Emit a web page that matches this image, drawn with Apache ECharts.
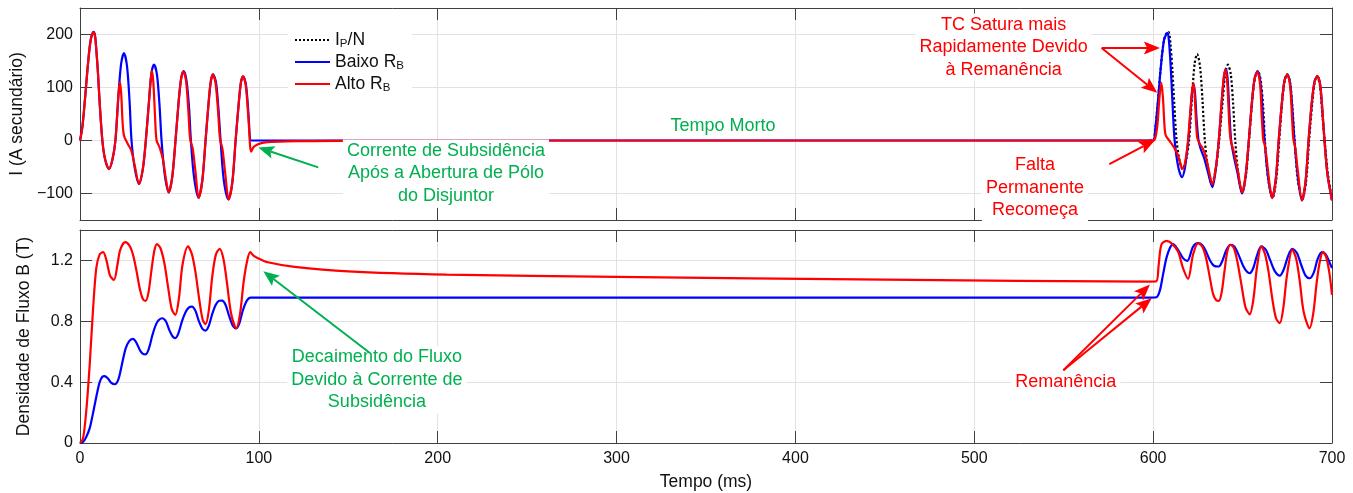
<!DOCTYPE html>
<html>
<head>
<meta charset="utf-8">
<script src="https://cdn.jsdelivr.net/npm/echarts@6/dist/echarts.min.js"></script>
<style>html,body{margin:0;padding:0;background:#fff}#c{width:1353px;height:493px}</style>
</head>
<body>
<div id="c"></div>
<script>
const FONT = "'Liberation Sans', Arial, Helvetica, sans-serif";

// ---- axis ticks ----
const xTicks = [0, 100, 200, 300, 400, 500, 600, 700];
const yTicksI = [-100, 0, 100, 200];
const yTicksB = [0, 0.4, 0.8, 1.2];

// ---- series names ----
const nameIdeal = 'IP/N';
const nameBaixo = 'Baixo RB';
const nameAlto = 'Alto RB';

// ---- secondary current I (A) : [time ms, value] ----
const iIdeal = [
[598,0],[600,0],[601.3,25],[602.6,71],[604.5,146],[606.1,190],[607.6,203],[608.6,205],[609.7,182],[610.8,130],[611.8,70],[613.1,0],
[614.6,-35],[616.4,-54],[618.5,-35],[620.1,0],[621.8,85],[623.2,145],[624.6,163],[626.2,140],[627.6,75],[628.9,0],
[630.6,-50],[632.8,-82],[635.1,-52],[636.9,0],[638.9,75],[640.4,128],[641.8,143],[643.4,125],[644.7,70],[645.9,0],
[647.7,-65],[649.8,-98],[651.8,-68],[653.6,0],[655.4,75],[656.9,118],[658.6,131],[660.2,112],[661.6,60],[662.5,0],
[664.2,-70],[666.8,-108],[668.8,-75],[670.5,0],[672.2,75],[673.5,112],[674.9,125],[676.5,110],[677.9,60],[679.1,0],
[680.9,-75],[683.4,-111],[685.5,-78],[687.2,0],[689,72],[690.3,110],[691.6,121],[693.2,105],[694.6,50],[695.9,0],
[697.6,-60],[700,-112]
];
const iBaixoRB = [
[0,0],[1.3,25],[2.6,71],[4.5,146],[6,190],[7.6,205],[8.4,198],[9.1,172],[10,130],[11,71],[12.5,0],
[14,-35],[16.2,-54],[18.2,-35],[19.8,0],[21.5,85],[23,145],[24.6,165],[26.3,140],[27.7,75],[28.8,0],
[30.5,-50],[33,-82],[35.2,-52],[36.8,0],[38.6,75],[40,128],[41.4,143],[43,125],[44.4,70],[45.6,0],
[47.4,-65],[49.6,-98],[51.6,-68],[53.4,0],[55.2,75],[56.6,118],[58,131],[59.6,112],[61,60],[62,0],
[63.8,-70],[66.3,-108],[68.4,-75],[70.2,0],[72,75],[73.2,112],[74.4,125],[76,110],[77.4,60],[78.6,0],
[80.4,-75],[83,-111],[85.2,-78],[87,0],[88.8,72],[90,110],[91.2,121],[92.8,105],[94.2,50],[95.3,0],
[96,0],[100,0],[200,0],[400,0],[596,0],[600,0],
[601.3,25],[602.6,71],[604.5,146],[606.1,190],[607.4,201],[608.1,203],[608.9,185],[609.8,140],[610.7,80],[611.5,25],
[612.3,-10],[613.5,-40],[614.8,-60],[616.2,-69],[617.6,-55],[618.8,-25],[619.8,5],[620.9,55],[621.9,95],[622.7,106],
[623.5,85],[624.3,40],[625.3,2],[626.5,-15],[628.5,-33],[630.5,-58],[633.1,-88],[635,-55],[636.7,0],[638.4,75],
[639.6,120],[640.6,135],[641.6,118],[642.6,55],[643.6,0],[645,-28],[647.2,-62],[649.7,-100],[651.6,-70],[653.5,0],
[655.3,75],[656.8,118],[658.4,131],[660,110],[661.4,45],[662.3,0],[664.2,-68],[666.5,-108],[668.5,-75],[670.2,0],
[672,72],[673.5,114],[675,124.5],[676.6,108],[678,50],[679,0],[681,-72],[683.2,-113],[685.2,-78],[686.9,0],
[688.7,72],[690.3,112],[691.8,121],[693.4,105],[694.8,48],[695.8,0],[697.5,-65],[700,-113]
];
const iAltoRB = [
[0,0],[1.3,25],[2.6,71],[4.5,146],[6,190],[7.6,204],[8.4,197],[9.1,172],[10,130],[11,71],[12.5,0],
[14,-35],[16.2,-54],[18.2,-35],[19.8,0],[20.8,50],[21.7,95],[22.4,110],[23.1,85],[23.8,35],[24.6,9],
[26.8,-7],[28.7,-19],[30.6,-47],[33,-82],[35.2,-52],[36.8,0],[38.6,75],[39.5,115],[40.2,132],[41,110],
[41.9,50],[42.8,0],[44.5,-13],[46.4,-36],[47.9,-70],[49.6,-98],[51.6,-68],[53.4,0],[55.2,75],[56.6,118],
[57.8,130],[59.3,112],[60.6,55],[61.6,2],[63,-15],[64.6,-60],[66.3,-108],[68.4,-75],[70.2,0],[72,75],
[73.1,112],[74.2,125],[75.8,108],[77.2,55],[78.3,2],[79.6,-15],[81.2,-62],[83.1,-111],[85.2,-78],[87,0],
[88.8,72],[90,110],[91.1,121],[92.7,103],[94.2,40],[95.7,-21],[97.2,-12],[99.5,-7],[102,-4.5],[105,-3],
[115,-1.8],[130,-1],[160,-0.4],[200,0],[300,0],[500,0],[596,0],[600,0],
[601.2,5],[602.4,30],[603.5,80],[604.6,109],[605.5,80],[606.3,30],[607,10],[609,0],[611.1,-10],[612.5,-18],
[614,-29],[615.8,-50],[616.7,-53],[618.2,-35],[619.5,0],[620.8,55],[621.8,95],[622.7,108],[623.6,60],[624.6,6],
[626,-6],[627.9,-16],[629.8,-35],[631.5,-62],[633.1,-83],[635,-52],[636.7,0],[638.4,78],[639.6,122],[640.6,134],
[641.6,100],[642.6,30],[643.4,0],[645.2,-22],[647.5,-60],[649.7,-98],[651.6,-68],[653.5,0],[655.3,75],[656.8,118],
[658.3,129.5],[659.8,105],[660.8,40],[661.6,0],[662.4,-8],[663.5,-35],[665,-80],[666.5,-108.6],[668.5,-75],[670.2,0],
[672,72],[673.5,114],[675,124.5],[676.6,102],[677.7,40],[678.4,2],[679.4,-12],[680.8,-55],[683.2,-113],[685.2,-78],
[686.9,0],[688.7,72],[690.3,112],[691.8,121],[693.4,105],[694.8,48],[695.8,0],[697.5,-65],[700,-113]
];

// ---- flux density B (T) : [time ms, value] ----
const bBaixoRB = [
[0,0],[2,0.01],[3.5,0.04],[5.4,0.096],[7,0.18],[8.2,0.25],[9.6,0.33],[11,0.4],[12.5,0.435],[13.8,0.44],
[15.5,0.425],[17.5,0.395],[19.4,0.386],[21.5,0.42],[23.5,0.52],[25.5,0.62],[27.5,0.67],[29.6,0.684],[31.5,0.66],[33.5,0.61],
[35,0.588],[36.7,0.583],[38.5,0.62],[40.5,0.71],[42.5,0.78],[44.2,0.81],[46,0.82],[48,0.8],[50,0.74],[51.8,0.7],
[53.3,0.689],[55,0.72],[57,0.8],[59,0.86],[60.8,0.89],[62.6,0.897],[64.5,0.87],[66.5,0.8],[68.5,0.75],[70.2,0.739],
[72,0.77],[74,0.85],[76,0.91],[77.8,0.935],[79.4,0.936],[81.3,0.91],[83.5,0.83],[85.5,0.77],[87.4,0.754],[89.2,0.79],
[91,0.87],[93,0.93],[94.5,0.952],[95.5,0.956],[97,0.956],[150,0.956],[300,0.956],[450,0.956],[598,0.956],
[601.8,0.958],[603.7,1.0],[605.5,1.105],[607.4,1.215],[609.3,1.28],[611.1,1.307],[613.9,1.27],[616.7,1.215],[619.1,1.197],[622.3,1.29],
[625.1,1.314],[627.5,1.3],[629.5,1.26],[631.8,1.2],[634,1.165],[636.7,1.16],[638.8,1.2],[641,1.27],[643.2,1.303],[645.5,1.29],
[648,1.23],[650.5,1.16],[652.5,1.125],[654,1.116],[656,1.15],[658,1.23],[660.5,1.292],[663,1.27],[665.5,1.2],[668,1.13],
[670.8,1.1],[673,1.14],[675.5,1.23],[677.8,1.276],[680.3,1.25],[682.8,1.17],[685.2,1.1],[687.5,1.083],[689.8,1.12],[692,1.21],
[694.4,1.254],[696.5,1.24],[698.5,1.19],[700,1.15]
];
const bAltoRB = [
[0,0],[1.7,0.03],[3.5,0.21],[5.4,0.51],[7.3,0.88],[9.1,1.15],[11,1.24],[12.9,1.254],[14.8,1.2],[16.8,1.1],
[19,1.072],[20.9,1.17],[22.5,1.27],[25.3,1.32],[28,1.29],[29.8,1.23],[31.6,1.13],[33.5,1.01],[35.2,0.945],[36.7,0.934],
[38.3,0.99],[40,1.14],[41.5,1.26],[43,1.307],[45,1.28],[47.2,1.18],[49.3,1.02],[51.3,0.88],[53.3,0.842],[55.3,0.95],
[57.3,1.17],[60.4,1.292],[62.6,1.24],[64.6,1.12],[66.6,0.95],[68.6,0.81],[70.2,0.781],[72,0.87],[74,1.1],[76,1.24],
[78.1,1.276],[80.2,1.21],[82.2,1.05],[84.5,0.85],[87.4,0.754],[89.5,0.85],[91.5,1.06],[93.5,1.2],[95.2,1.254],[97,1.232],
[99.5,1.215],[105,1.188],[120,1.158],[150,1.128],[205,1.107],[300,1.092],[450,1.074],[598,1.061],
[601.8,1.063],[603.1,1.171],[604.6,1.303],[607.4,1.329],[610.2,1.314],[613.9,1.259],[616.7,1.149],[619.5,1.079],[622.3,1.237],[625.1,1.314],
[627.5,1.29],[629.5,1.22],[631.5,1.1],[633.5,0.98],[635.2,0.94],[636.7,0.934],[638.3,0.99],[640,1.14],[641.5,1.26],[643.2,1.303],
[645.2,1.28],[647.3,1.18],[649.5,1.03],[651.7,0.89],[654,0.846],[656,0.94],[658,1.15],[660.5,1.292],[662.6,1.24],[664.6,1.12],
[666.6,0.95],[668.7,0.82],[670.8,0.787],[672.8,0.89],[674.8,1.1],[677.8,1.27],[680,1.21],[682,1.06],[684.2,0.86],[687.5,0.754],
[689.5,0.85],[691.5,1.06],[693.3,1.2],[695,1.254],[696.8,1.22],[698.5,1.12],[700,0.974]
];

// ---- chart ----
const chart = echarts.init(document.getElementById('c'), null, {renderer: 'canvas'});
const AX = '#404040', GRIDC = '#e2e2e2';
const GREEN = '#00B050', RED = '#FF0000', BLUE = '#0000FF';

function xAxis(grid, pos, labels, split, withName) {
  const a = {
    type: 'value', gridIndex: grid, position: pos, min: 0, max: 700, interval: 100,
    axisLine: {show: true, onZero: false, lineStyle: {color: AX, width: 1}},
    axisTick: {show: true, inside: true, length: 12, lineStyle: {color: AX}, customValues: xTicks},
    axisLabel: {show: labels, color: '#111', fontSize: 16, fontFamily: FONT, margin: 8, customValues: xTicks},
    splitLine: {show: split, lineStyle: {color: GRIDC, width: 1}}
  };
  if (withName) {
    a.name = 'Tempo (ms)'; a.nameLocation = 'middle'; a.nameGap = 30;
    a.nameTextStyle = {fontSize: 17.5, fontFamily: FONT, color: '#111'};
  }
  return a;
}
function yAxis(grid, pos, min, max, interval, ticks, labels, split, name, fmt) {
  const a = {
    type: 'value', gridIndex: grid, position: pos, min: min, max: max, interval: interval,
    axisLine: {show: true, onZero: false, lineStyle: {color: AX, width: 1}},
    axisTick: {show: true, inside: true, length: 12, lineStyle: {color: AX}, customValues: ticks},
    axisLabel: {show: labels, color: '#111', fontSize: 16, fontFamily: FONT, margin: 7, customValues: ticks, formatter: fmt},
    splitLine: {show: split, lineStyle: {color: GRIDC, width: 1}}
  };
  if (name) {
    a.name = name; a.nameLocation = 'middle'; a.nameGap = 47;
    a.nameTextStyle = {fontSize: 17.5, fontFamily: FONT, color: '#111'};
  }
  return a;
}
const fmtI = v => v < 0 ? '\u2212' + Math.abs(v) : String(v);
const fmtB = v => String(v);

function lineSeries(name, xi, yi, data, color, type, width, z) {
  return {
    name: name, type: 'line', xAxisIndex: xi, yAxisIndex: yi, data: data,
    symbol: 'none', showSymbol: false, smooth: 0.3, z: z,
    lineStyle: {color: color, width: width, type: type},
    itemStyle: {color: color}
  };
}

chart.setOption({
  animation: false,
  backgroundColor: '#fff',
  grid: [
    {left: 80, right: 21, top: 8, height: 212, show: false},
    {left: 80, right: 21, top: 230, height: 213, show: false}
  ],
  legend: {
    data: [nameIdeal, nameBaixo, nameAlto],
    orient: 'vertical', left: 288, top: 26,
    backgroundColor: '#fff', padding: [4, 8, 4, 6],
    itemWidth: 35, itemHeight: 12, itemGap: 2,
    itemStyle: {opacity: 0, borderWidth: 0},
    textStyle: {
      fontFamily: FONT, fontSize: 17.5, color: '#111',
      rich: {
        a: {fontFamily: FONT, fontSize: 17.5, lineHeight: 20, color: '#111'},
        s: {fontFamily: FONT, fontSize: 11.5, lineHeight: 12, padding: [8, 0, 0, 0], color: '#111'}
      }
    },
    formatter: function (n) {
      if (n === nameIdeal) return '{a|I}{s|P}{a|/N}';
      if (n === nameBaixo) return '{a|Baixo R}{s|B}';
      return '{a|Alto R}{s|B}';
    }
  },
  xAxis: [
    xAxis(0, 'bottom', false, true, false),
    xAxis(0, 'top', false, false, false),
    xAxis(1, 'bottom', true, true, true),
    xAxis(1, 'top', false, false, false)
  ],
  yAxis: [
    yAxis(0, 'left', -150, 250, 50, yTicksI, true, true, 'I (A secund\u00e1rio)', fmtI),
    yAxis(0, 'right', -150, 250, 50, yTicksI, false, false, null, fmtI),
    yAxis(1, 'left', 0, 1.4, 0.2, yTicksB, true, true, 'Densidade de Fluxo B (T)', fmtB),
    yAxis(1, 'right', 0, 1.4, 0.2, yTicksB, false, false, null, fmtB)
  ],
  series: [
    lineSeries(nameIdeal, 0, 0, iIdeal, '#000', 'dotted', 2.2, 2),
    lineSeries(nameBaixo, 0, 0, iBaixoRB, BLUE, 'solid', 2.2, 3),
    lineSeries(nameAlto, 0, 0, iAltoRB, RED, 'solid', 2.2, 4),
    lineSeries(nameBaixo, 2, 2, bBaixoRB, BLUE, 'solid', 2.2, 3),
    lineSeries(nameAlto, 2, 2, bAltoRB, RED, 'solid', 2.2, 4)
  ]
});

// ---- annotations anchored on data coordinates ----
const TOP = {xAxisIndex: 0, yAxisIndex: 0};
const BOT = {xAxisIndex: 2, yAxisIndex: 2};
function px(sys, p) { return chart.convertToPixel(sys, p); }

const notes = [
  {sys: TOP, at: [359.5, 28], color: GREEN, text: 'Tempo Morto'},
  {sys: TOP, at: [204.6, -61.9], color: GREEN, text: 'Corrente de Subsid\u00eancia\nAp\u00f3s a Abertura de P\u00f3lo\ndo Disjuntor'},
  {sys: BOT, at: [166, 0.416], color: GREEN, text: 'Decaimento do Fluxo\nDevido \u00e0 Corrente de\nSubsid\u00eancia'},
  {sys: TOP, at: [516.4, 175.8], color: RED, text: 'TC Satura mais\nRapidamente Devido\n\u00e0 Reman\u00eancia'},
  {sys: TOP, at: [533.9, -88.9], color: RED, text: 'Falta\nPermanente\nRecome\u00e7a'},
  {sys: BOT, at: [551.1, 0.399], color: RED, text: 'Reman\u00eancia'}
];
const arrows = [
  {sys: TOP, from: [133.2, -50.7], to: [99.7, -13], color: GREEN},
  {sys: BOT, from: [162.1, 0.592], to: [102.5, 1.129], color: GREEN},
  {sys: TOP, from: [571.2, 174.5], to: [603.8, 174.5], color: RED},
  {sys: TOP, from: [571.2, 174.5], to: [602.3, 90], color: RED},
  {sys: TOP, from: [575.5, -44.5], to: [601, 0.6], color: RED},
  {sys: BOT, from: [549.8, 0.478], to: [598.2, 1.041], color: RED},
  {sys: BOT, from: [549.8, 0.478], to: [599.2, 0.951], color: RED}
];

const graphics = [];
notes.forEach(n => {
  const p = px(n.sys, n.at);
  graphics.push({
    type: 'text', x: p[0], y: p[1], z: 50,
    style: {
      text: n.text, fill: n.color, font: '18px ' + FONT,
      align: 'center', verticalAlign: 'middle', lineHeight: 22.5,
      backgroundColor: '#fff', padding: [0, 4]
    }
  });
});
arrows.forEach(a => {
  const s = px(a.sys, a.from), t = px(a.sys, a.to);
  const dx = t[0] - s[0], dy = t[1] - s[1];
  const len = Math.sqrt(dx * dx + dy * dy);
  const ux = dx / len, uy = dy / len, nx = -uy, ny = ux;
  const L = 16, W = 6.5;
  const bx = t[0] - ux * L, by = t[1] - uy * L;
  const mx = t[0] - ux * L * 0.8, my = t[1] - uy * L * 0.8;
  graphics.push({
    type: 'line', z: 60,
    shape: {x1: s[0], y1: s[1], x2: mx, y2: my},
    style: {stroke: a.color, lineWidth: 2}
  });
  graphics.push({
    type: 'polygon', z: 60,
    shape: {points: [[t[0], t[1]], [bx + nx * W, by + ny * W], [mx, my], [bx - nx * W, by - ny * W]]},
    style: {fill: a.color}
  });
});
chart.setOption({graphic: graphics});
</script>
</body>
</html>
